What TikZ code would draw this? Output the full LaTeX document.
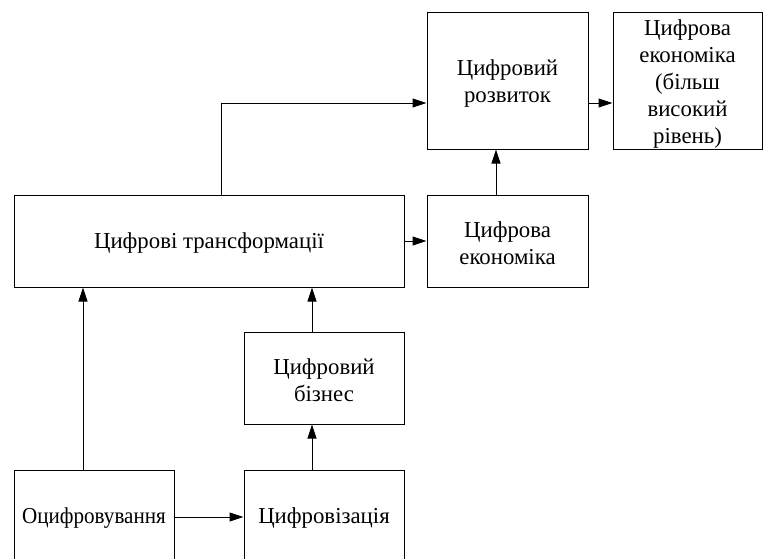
\documentclass[tikz,border=0pt]{standalone}
\usepackage{fontspec}
\usepackage{graphicx}
\setmainfont{Liberation Serif}
\usetikzlibrary{arrows.meta}
\begin{document}
\begin{tikzpicture}[x=1pt,y=-1pt,
  box/.style={draw,line width=1pt,inner sep=0pt},
  txt/.style={inner sep=0pt,align=center,font=\fontsize{22.8}{27}\selectfont},
  arr/.style={line width=1pt,-{Triangle[length=14pt,width=9pt]}}]
\useasboundingbox (0,0) rectangle (763,558);
\clip (0,0) rectangle (763,558);
\node[box,minimum width=161pt,minimum height=137pt] (dev) at (507.5,80.5) {};
\node[box,minimum width=149pt,minimum height=137pt] (high) at (687.5,80.5) {};
\node[box,minimum width=390pt,minimum height=92pt] (trans) at (209,241) {};
\node[box,minimum width=161pt,minimum height=92pt] (econ) at (507.5,241) {};
\node[box,minimum width=160pt,minimum height=92pt] (biz) at (324,378) {};
\node[box,minimum width=160pt,minimum height=94pt] (ocyf) at (94,517) {};
\node[box,minimum width=160pt,minimum height=94pt] (cyfr) at (324,517) {};
\node[txt] (devT) at ([yshift=-3pt]dev.center) {Цифровий\\розвиток};
\node[txt] (highT) at ([yshift=-4pt]high.center) {Цифрова\\економіка\\(більш\\високий\\рівень)};
\node[txt] (transT) at ([yshift=-2pt]trans.center) {Цифрові трансформації};
\node[txt] (econT) at ([yshift=-2pt]econ.center) {Цифрова\\економіка};
\node[txt] (bizT) at ([yshift=-2pt]biz.center) {Цифровий\\бізнес};
\node[txt] (ocyfT) at ([yshift=-1pt]ocyf.center) {\scalebox{0.925}[1]{Оцифровування}};
\node[txt] (cyfrT) at ([yshift=-1pt]cyfr.center) {Цифровізація};
\coordinate (bizTop) at ([xshift=-12pt]biz.north);
\coordinate (ocyfTop) at ([xshift=-11pt]ocyf.north);
\draw[arr] (ocyf.east) -- (cyfr.west);
\draw[arr] ([xshift=-12pt]cyfr.north) -- ([xshift=-12pt]biz.south);
\draw[arr] (bizTop) -- (trans.south -| bizTop);
\draw[arr] (ocyfTop) -- (trans.south -| ocyfTop);
\draw[arr] (trans.east |- econ.west) -- (econ.west);
\draw[arr] ([xshift=-11.5pt]econ.north) -- ([xshift=-11.5pt]dev.south);
\draw[arr] ([xshift=12pt]trans.north) |- ([yshift=-22.5pt]dev.west);
\draw[arr] ([yshift=-22.5pt]dev.east) -- ([yshift=-22.5pt]high.west);
\end{tikzpicture}
\end{document}
